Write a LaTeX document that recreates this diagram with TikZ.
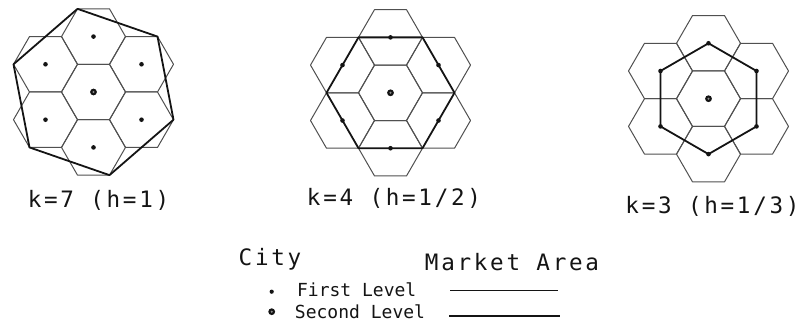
\documentclass[tikz,border=0pt]{standalone}
\usepackage{fontspec}
\usepackage{tikz}
\usetikzlibrary{calc}
\newfontfamily\plotfont[LetterSpace=12]{DejaVu Sans Mono}
\newfontfamily\plotsmall{DejaVu Sans Mono}
\definecolor{ink}{HTML}{141414}
\definecolor{cellgray}{HTML}{505050}
\newcommand{\hexr}{32}
\newcommand{\hexd}{55.43}
\newcommand{\hexcell}[1]{\draw[cell,shift={(#1)}] (0:\hexr) -- (60:\hexr) -- (120:\hexr) -- (180:\hexr) -- (240:\hexr) -- (300:\hexr) -- cycle;}
\newcommand{\bigcity}[1]{\fill[ink] (#1) circle (3.4); \fill[black!45] (#1) circle (1.1);}

\begin{document}
\begin{tikzpicture}[x=1pt,y=1pt,
  cell/.style={draw=cellgray,line width=1pt,line join=round},
  area/.style={draw=ink,line width=1.8pt,line join=round},
  lbl/.style={font=\plotfont\fontsize{22.6}{24}\selectfont,text=ink,inner sep=0pt},
  lblsmall/.style={font=\plotsmall\fontsize{18}{20}\selectfont,text=ink,inner sep=0pt}]
\useasboundingbox (0,0) rectangle (805,324);
% left: k=7
\begin{scope}[shift={(93.5,232)}]
\hexcell{0,0}
\foreach \a in {30,90,...,330} {\hexcell{\a:\hexd}}
\draw[area,rotate=40.89] (0:84.67) -- (60:84.67) -- (120:84.67) -- (180:84.67) -- (240:84.67) -- (300:84.67) -- cycle;
\foreach \a in {30,90,...,330} \fill[ink] (\a:\hexd) circle (2.3);
\bigcity{0,0}
\node[lbl] (k7) at (5,-108) {k=7 (h=1)};
\end{scope}
% middle: k=4
\begin{scope}[shift={(390.5,231.2)}]
\hexcell{0,0}
\foreach \a in {30,90,...,330} {\hexcell{\a:\hexd}}
\draw[area] (0:64) -- (60:64) -- (120:64) -- (180:64) -- (240:64) -- (300:64) -- cycle;
\foreach \a in {30,90,...,330} \fill[ink] (\a:\hexd) circle (2.3);
\bigcity{0,0}
\node[lbl] (k4) at (3.5,-105.2) {k=4 (h=1/2)};
\end{scope}
% right: k=3
\begin{scope}[shift={(708.5,225.3)}]
\hexcell{0,0}
\foreach \a in {30,90,...,330} {\hexcell{\a:\hexd}}
\draw[area] (30:\hexd) -- (90:\hexd) -- (150:\hexd) -- (210:\hexd) -- (270:\hexd) -- (330:\hexd) -- cycle;
\foreach \a in {30,90,...,330} \fill[ink] (\a:\hexd) circle (2.3);
\bigcity{0,0}
\node[lbl] (k3) at (4,-108) {k=3 (h=1/3)};
\end{scope}
% legend
\node[lbl] (city) at (270,65) {City};
\node[lbl] (market) at (512,62) {Market Area};
\node[lblsmall] (first) at (356.7,34) {First Level};
\node[lblsmall] (second) at (360,12) {Second Level};
\fill[ink] (271.7,32.3) circle (2.1);
\bigcity{271.7,12.3}
\coordinate (fa) at (450,34);
\coordinate (fb) at (558,34);
\coordinate (sa) at (449,8);
\coordinate (sb) at (560,8);
\draw[ink,line width=0.9pt] (fa) -- (fb);
\draw[ink,line width=1.4pt] (sa) -- (sb);
\end{tikzpicture}
\end{document}
